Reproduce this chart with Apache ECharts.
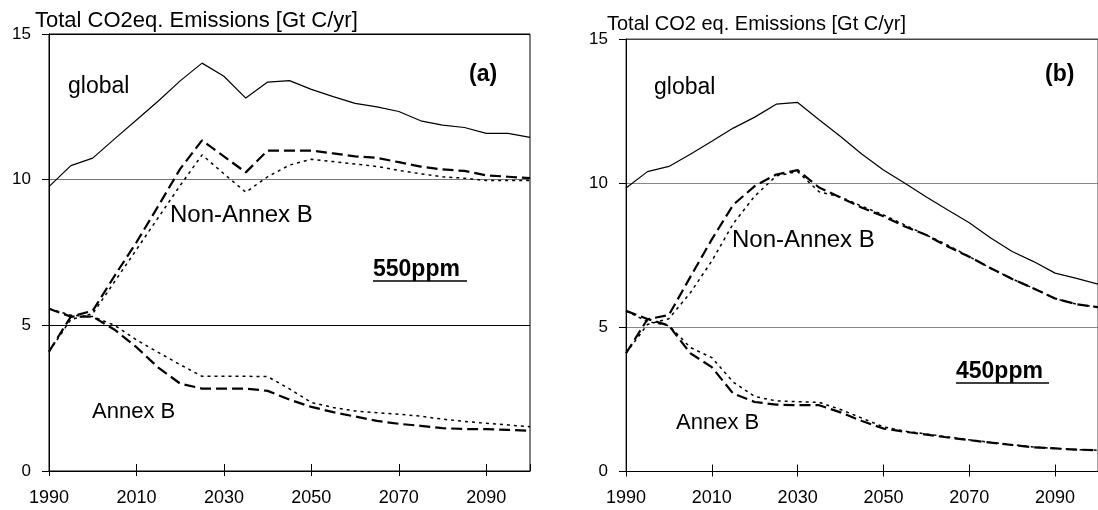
<!DOCTYPE html>
<html>
<head>
<meta charset="utf-8">
<script src="https://cdn.jsdelivr.net/npm/echarts@6/dist/echarts.min.js"></script>
<style>
html,body{margin:0;padding:0;background:#fff;}
#chart{width:1098px;height:510px;}
</style>
</head>
<body>
<div id="chart"></div>
<script>
// ---- data ----
const years = [1990,1995,2000,2005,2010,2015,2020,2025,2030,2035,2040,2045,2050,2055,2060,2065,2070,2075,2080,2085,2090,2095,2100];
const xTickLabels = ['1990','2010','2030','2050','2070','2090'];
const yTickLabels = ['0','5','10','15'];

// panel (a) 550ppm
const globalA      = [9.76,10.48,10.74,11.4,12.05,12.7,13.39,14.0,13.55,12.8,13.35,13.4,13.1,12.85,12.62,12.5,12.34,12.02,11.87,11.79,11.59,11.59,11.45];
const nonAnnexA_d  = [4.1,5.3,5.5,6.7,7.85,9.1,10.37,11.35,10.8,10.25,11.0,11.0,11.0,10.9,10.8,10.75,10.6,10.45,10.35,10.3,10.15,10.1,10.05];
const nonAnnexA_p  = [4.1,5.2,5.4,6.5,7.6,8.7,9.8,10.85,10.2,9.57,10.1,10.5,10.7,10.62,10.54,10.45,10.32,10.2,10.1,10.05,9.97,9.97,9.97];
const annexA_d     = [5.57,5.3,5.3,4.85,4.25,3.55,3.0,2.83,2.83,2.83,2.75,2.45,2.2,2.02,1.87,1.72,1.62,1.55,1.47,1.44,1.44,1.41,1.38];
const annexA_p     = [5.57,5.35,5.3,5.0,4.5,4.07,3.65,3.25,3.25,3.25,3.24,2.82,2.35,2.18,2.06,2.0,1.95,1.88,1.78,1.7,1.64,1.58,1.52];

// panel (b) 450ppm
const globalB      = [9.83,10.4,10.58,11.0,11.45,11.91,12.29,12.74,12.8,12.2,11.62,11.0,10.46,10.0,9.52,9.07,8.63,8.1,7.63,7.28,6.88,6.7,6.5];
const nonAnnexB_d  = [4.1,5.28,5.43,6.75,8.05,9.25,9.9,10.3,10.45,9.85,9.5,9.15,8.85,8.5,8.2,7.8,7.45,7.05,6.68,6.35,6.0,5.8,5.7];
const nonAnnexB_p  = [4.1,5.1,5.3,6.2,7.3,8.6,9.55,10.25,10.4,9.7,9.52,9.2,8.9,8.55,8.2,7.85,7.45,7.05,6.68,6.35,6.0,5.8,5.7];
const annexB_d     = [5.57,5.29,5.06,4.1,3.62,2.7,2.41,2.32,2.3,2.3,2.05,1.75,1.49,1.38,1.28,1.18,1.09,1.0,0.92,0.84,0.8,0.76,0.74];
const annexB_p     = [5.57,5.2,5.06,4.3,3.95,3.1,2.6,2.45,2.42,2.4,2.15,1.85,1.55,1.4,1.3,1.2,1.1,1.01,0.93,0.85,0.8,0.76,0.74];

const pair = arr => years.map((y,i)=>[y,arr[i]]);

const FONT = "'Liberation Sans', Arial, sans-serif";

function xAxes(gi, showLbl) {
  return [
    { gridIndex: gi, type:'value', min:1990, max:2100, interval:20, position:'bottom',
      axisLine:{show:true, lineStyle:{color:'#000', width:1}},
      axisTick:{show:true, inside:false, length:5, lineStyle:{color:'#000'}},
      axisLabel:{show:showLbl, showMaxLabel:false, margin:18, color:'#000', fontFamily:FONT, fontSize:18,
        formatter: v => xTickLabels.indexOf(String(v))>=0 ? String(v) : ''},
      splitLine:{show:false} },
    { gridIndex: gi, type:'value', min:1990, max:2100, interval:20, position:'bottom',
      axisLine:{show:false},
      axisTick:{show:true, inside:true, length:7, lineStyle:{color:'#000'}},
      axisLabel:{show:false}, splitLine:{show:false} }
  ];
}
function yAxis(gi, gridColors) {
  return { gridIndex: gi, type:'value', min:0, max:15, interval:5,
    axisLine:{show:true, lineStyle:{color:'#000', width:1}},
    axisTick:{show:true, inside:false, length:7, lineStyle:{color:'#000'}},
    axisLabel:{margin:18, color:'#000', fontFamily:FONT, fontSize:17,
      formatter: v => yTickLabels.indexOf(String(v))>=0 ? String(v) : ''},
    splitLine:{show:true, lineStyle:{color:gridColors, width:1}} };
}

const solid  = {color:'#000', width:1.2, type:'solid'};
const dashed = {color:'#000', width:2.2, type:[11,5]};
const dotted = {color:'#000', width:1.5, type:[3,4]};

function line(xi, yi, data, style) {
  return { type:'line', xAxisIndex:xi, yAxisIndex:yi, data:pair(data), showSymbol:false, symbol:'none',
    lineStyle:style, silent:true, animation:false };
}

function txt(left, top, text, size, bold) {
  return { type:'text', left:left, top:top, silent:true,
    style:{ text:text, fill:'#000', font:(bold?'bold ':'') + size + 'px ' + FONT } };
}
function uline(x1, x2, y) {
  return { type:'line', silent:true, shape:{x1:x1, y1:y, x2:x2, y2:y}, style:{stroke:'#000', lineWidth:1.6} };
}

const chart = echarts.init(document.getElementById('chart'), null, {renderer:'canvas'});
chart.setOption({
  animation:false,
  backgroundColor:'#fff',
  grid:[
    {left:49, top:34, width:481, height:437, show:true, borderColor:'#000', borderWidth:1, backgroundColor:'transparent'},
    {left:626, top:39, width:483, height:432.5, show:true, borderColor:'#444', borderWidth:1, backgroundColor:'transparent'}
  ],
  xAxis:[...xAxes(0,true), ...xAxes(1,true)],
  yAxis:[yAxis(0, ['#000','#000','#777','#000']), yAxis(1, ['#000','#888','#888','#444'])],
  series:[
    line(0,0,globalA,solid),
    line(0,0,nonAnnexA_d,dashed),
    line(0,0,nonAnnexA_p,dotted),
    line(0,0,annexA_d,dashed),
    line(0,0,annexA_p,dotted),
    line(2,1,globalB,solid),
    line(2,1,nonAnnexB_d,dashed),
    line(2,1,nonAnnexB_p,dotted),
    line(2,1,annexB_d,dashed),
    line(2,1,annexB_p,dotted)
  ],
  graphic:[
    txt(35, 10, 'Total CO2eq. Emissions [Gt C/yr]', 22, false),
    txt(607, 14, 'Total CO2 eq. Emissions [Gt C/yr]', 20, false),
    txt(68, 75, 'global', 23, false),
    txt(654, 76, 'global', 23, false),
    txt(469, 63, '(a)', 23, true),
    txt(1045, 63, '(b)', 23, true),
    txt(170, 203, 'Non-Annex B', 24, false),
    txt(732, 228, 'Non-Annex B', 24, false),
    txt(92, 401, 'Annex B', 22, false),
    txt(676, 412, 'Annex B', 22, false),
    txt(373, 258, '550ppm', 23, true),
    uline(373, 467, 281),
    txt(956, 360, '450ppm', 23, true),
    uline(956, 1049, 383)
  ]
});
</script>
</body>
</html>
